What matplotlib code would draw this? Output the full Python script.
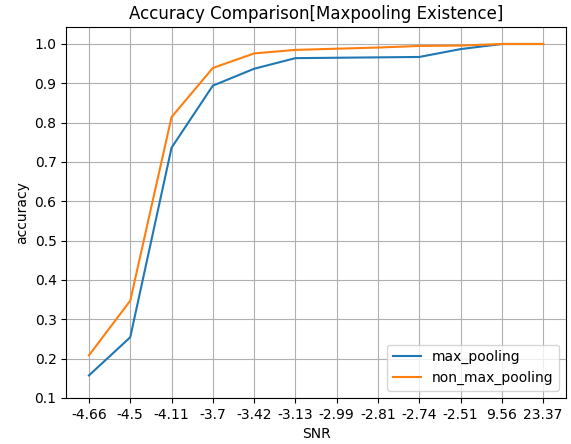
import matplotlib
matplotlib.use('Agg')
import matplotlib.pyplot as plt
import numpy as np

snr = ['-4.66', '-4.5', '-4.11', '-3.7', '-3.42', '-3.13', '-2.99', '-2.81', '-2.74', '-2.51', '9.56', '23.37']
max_pooling = [0.157, 0.254, 0.736, 0.894, 0.937, 0.964, 0.965, 0.966, 0.967, 0.987, 1.0, 1.0]
non_max_pooling = [0.208, 0.347, 0.814, 0.939, 0.976, 0.985, 0.988, 0.991, 0.995, 0.996, 1.0, 1.0]
y_ticks = np.round(np.arange(0.1, 1.01, 0.1), 1)

fig = plt.figure(figsize=(5.71, 4.44), dpi=100)
plt.plot(snr, max_pooling, label='max_pooling')
plt.plot(snr, non_max_pooling, label='non_max_pooling')
plt.yticks(y_ticks)
plt.ylim(0.1, 1.043)
plt.grid()
plt.xlabel('SNR')
plt.ylabel('accuracy')
plt.title('Accuracy Comparison[Maxpooling Existence]')
plt.legend(loc='lower right')
plt.subplots_adjust(left=0.116, right=0.991, top=0.939, bottom=0.104)
plt.savefig('out.png')
